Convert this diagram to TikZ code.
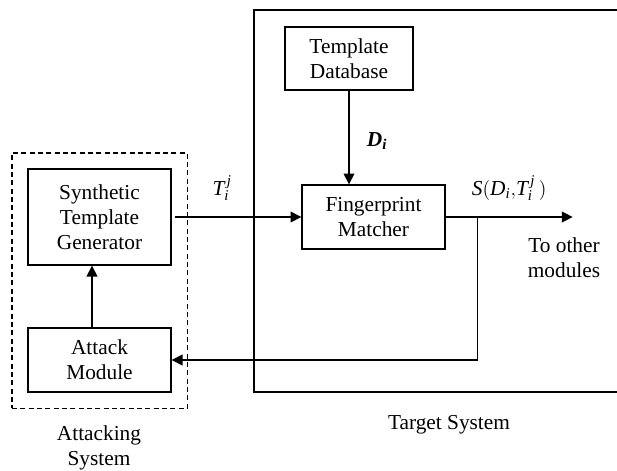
\documentclass[tikz,border=0pt]{standalone}
\usepackage{fontspec}
\setmainfont{Liberation Serif}
\usetikzlibrary{arrows.meta, positioning, fit}

\begin{document}
\begin{tikzpicture}[
        x=0.6pt, y=-0.6pt, on grid, >={Triangle[length=6.5pt,width=6.5pt]},
        font=\fontsize{12.8}{15}\selectfont,
        block/.style={draw, line width=0.8pt, align=center, inner sep=0pt},
        link/.style={->, line width=0.8pt}
        ]
        \useasboundingbox (0,0) rectangle (617,470);

        \node[block, minimum width=85.8pt, minimum height=57.6pt] (gen) at (99.5,217) {Synthetic\\Template\\Generator};
        \node[block, minimum width=85.8pt, minimum height=38.4pt] (atk) [below=85.8pt of gen] {Attack\\Module};
        \node[block, minimum width=85.8pt, minimum height=38.4pt] (fpm) [right=164.4pt of gen] {Fingerprint\\Matcher};
        \node[block, minimum width=76.8pt, minimum height=37.8pt] (tdb) [above left=95.1pt and 14.7pt of fpm] {Template\\Database};

        \node[draw, dash pattern=on 3pt off 2pt, line width=0.8pt, inner sep=9.3pt, fit=(gen) (atk)] (att) {};
        \draw[line width=1.5pt] (625,10) -- (254,10) -- (254,392) -- (625,392);

        \coordinate (out) at ([xshift=76.2pt]fpm.east);
        \coordinate (br) at ([xshift=19.2pt]fpm.east);

        \path[link] (gen) edge[shorten <=2pt] node[above=6pt, pos=0.39] {$\mathit{T}_{\mathit{i}}^{\mathit{\,j}}$} (fpm);
        \draw[link] (tdb) -- node[right=7pt, pos=0.54] {\textbf{\textit{D\textsubscript{i}}}} (tdb |- fpm.north);
        \draw[link] (fpm) -- node[above=6pt, midway] {$\mathit{S}\mathrm{(}\mathit{D}_{\mathit{i}}\mathrm{,}\mathit{T}_{\mathit{i}}^{\mathit{\,j}}\,\mathrm{)}$} (out);
        \draw[link] (br) |- (atk);
        \draw[link] ([xshift=-4.5pt]atk.north) -- ([xshift=-4.5pt]gen.south);

        \node[align=center] (oth) at (564,258) {To other\\modules};
        \node (tsys) at (449,425) {Target System};
        \node[align=center] (asys) at (99,448) {Attacking\\System};
      \end{tikzpicture}
\end{document}
